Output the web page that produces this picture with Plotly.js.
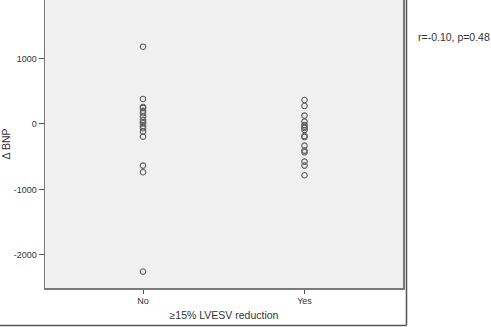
<!DOCTYPE html>
<html><head><meta charset="utf-8">
<script src="https://cdn.plot.ly/plotly-3.0.1.min.js"></script>
<style>html,body{margin:0;padding:0;background:#fff}#c{width:491px;height:327px}</style>
</head><body><div id="c"></div>
<script>
const categories = ["No", "Yes"];
const noValues = [1180, 382, 260, 245, 200, 163, 111, 61, 30, 10, -31, -66, -117, -194, -636, -737, -2254];
const yesValues = [366, 275, 127, 36, -15, -40, -61, -92, -183, -200, -331, -407, -433, -575, -636, -783];
const yTickVals = [-2000, -1000, 0, 1000];
const yTickText = ["-2000", "-1000", "0", "1000"];
const annotationText = "r=-0.10, p=0.48";

const marker = {symbol: 'circle-open', size: 5.5, color: '#606060', line: {width: 1.1, color: '#606060'}};
const traces = [
  {x: noValues.map(() => categories[0]), y: noValues, type: 'scatter', mode: 'markers', marker: marker, hoverinfo: 'none'},
  {x: yesValues.map(() => categories[1]), y: yesValues, type: 'scatter', mode: 'markers', marker: marker, hoverinfo: 'none'}
];
const W = 358, H = 288;
const layout = {
  width: 491, height: 327,
  margin: {l: 45, r: 88, t: 0, b: 39},
  paper_bgcolor: '#ffffff', plot_bgcolor: '#f0f0f0',
  showlegend: false,
  font: {family: 'Liberation Sans, Arial, sans-serif', color: '#333'},
  xaxis: {
    type: 'category', categoryarray: categories, range: [-0.607, 1.61],
    showgrid: false, zeroline: false, showline: true, linecolor: '#7a7a7a', linewidth: 1.5,
    ticks: 'outside', ticklen: 4, tickcolor: '#555', tickwidth: 1,
    tickfont: {size: 9, color: '#333'},
    title: {text: '≥15% LVESV reduction', font: {size: 10.5, color: '#333'}, standoff: 6}
  },
  yaxis: {
    range: [-2505, 1893],
    tickvals: yTickVals, ticktext: yTickText,
    showgrid: false, zeroline: false, showline: true, mirror: true, linecolor: '#7a7a7a', linewidth: 1.5,
    ticks: 'outside', ticklen: 5, tickcolor: '#555', tickwidth: 1,
    tickfont: {size: 9, color: '#333'},
    title: {text: 'Δ BNP', font: {size: 10.5, color: '#333'}, standoff: 10}
  },
  shapes: [
    {type: 'line', xref: 'paper', yref: 'paper', x0: (406.5-45)/W, x1: (406.5-45)/W, y0: 1.01, y1: (288-325.5)/H, line: {color: '#555', width: 1.5}},
    {type: 'line', xref: 'paper', yref: 'paper', x0: -45/W - 0.01, x1: (406.5-45)/W, y0: (288-325.5)/H, y1: (288-325.5)/H, line: {color: '#555', width: 1.5}}
  ],
  annotations: [
    {text: annotationText, xref: 'paper', yref: 'paper', x: (416-45)/W, y: (288-37)/H, xanchor: 'left', yanchor: 'middle', showarrow: false, font: {size: 10.5, color: '#333'}}
  ]
};
Plotly.newPlot('c', traces, layout, {displayModeBar: false, staticPlot: true});
</script></body></html>
